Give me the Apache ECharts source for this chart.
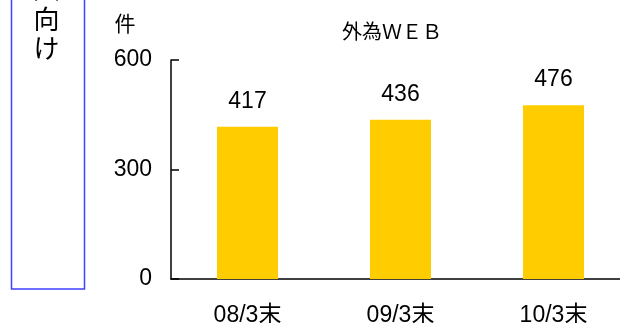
<!DOCTYPE html>
<html>
<head>
<meta charset="utf-8">
<script src="https://cdn.jsdelivr.net/npm/echarts@6/dist/echarts.min.js"></script>
<style>
  html, body { margin: 0; padding: 0; background: #fff; }
  #main { width: 620px; height: 323px; }
</style>
</head>
<body>
<div id="main"></div>
<script>
var categories = ['08/3末', '09/3末', '10/3末'];
var counts = [417, 436, 476];
var sideLabel = ['人', '向', 'け'];
var chartTitle = '外為ＷＥＢ';
var unitLabel = '件';

var FONT = "'Liberation Sans', 'Noto Sans CJK JP', sans-serif";

var chart = echarts.init(document.getElementById('main'));

// vertical caption in the blue box on the left (top char is cut off)
var sideTexts = [];
for (var i = 0; i < sideLabel.length; i++) {
    sideTexts.push({
        type: 'text',
        x: 46.5,
        y: -8 + i * 29.5,
        style: {
            text: sideLabel[i],
            font: '26px ' + FONT,
            fill: '#000',
            align: 'center',
            verticalAlign: 'middle'
        }
    });
}

chart.setOption({
    animation: false,
    backgroundColor: '#fff',
    grid: {
        left: 171,
        top: 60,
        bottom: 44,
        width: 459,
        outerBoundsMode: 'none'
    },
    graphic: [{
        type: 'rect',
        shape: { x: 11.5, y: -10, width: 73, height: 299 },
        style: { fill: 'none', stroke: '#3f3fff', lineWidth: 1.5 }
    }, {
        type: 'text',
        x: 392,
        y: 33,
        style: {
            text: chartTitle,
            font: '20px ' + FONT,
            fill: '#000',
            align: 'center',
            verticalAlign: 'middle'
        }
    }, {
        type: 'text',
        x: 125,
        y: 25,
        style: {
            text: unitLabel,
            font: '21px ' + FONT,
            fill: '#000',
            align: 'center',
            verticalAlign: 'middle'
        }
    }].concat(sideTexts),
    xAxis: {
        type: 'category',
        data: categories,
        axisLine: { lineStyle: { color: '#000', width: 1.5 } },
        axisTick: { inside: true, length: 7, lineStyle: { color: '#000', width: 1.5 } },
        axisLabel: {
            margin: 25,
            color: '#000',
            fontSize: 23,
            fontFamily: FONT
        },
        splitLine: { show: false }
    },
    yAxis: {
        type: 'value',
        min: 0,
        max: 600,
        interval: 300,
        axisLine: { show: true, lineStyle: { color: '#000', width: 1.5 } },
        axisTick: { show: true, inside: true, length: 8, lineStyle: { color: '#000', width: 1.5 } },
        axisLabel: {
            margin: 19,
            color: '#000',
            fontSize: 23,
            fontFamily: FONT
        },
        splitLine: { show: false }
    },
    series: [{
        type: 'bar',
        data: counts,
        barWidth: 61,
        itemStyle: { color: '#ffcc00' },
        label: {
            show: true,
            position: 'top',
            distance: 14,
            color: '#000',
            fontSize: 23,
            fontFamily: FONT
        }
    }]
});
</script>
</body>
</html>
